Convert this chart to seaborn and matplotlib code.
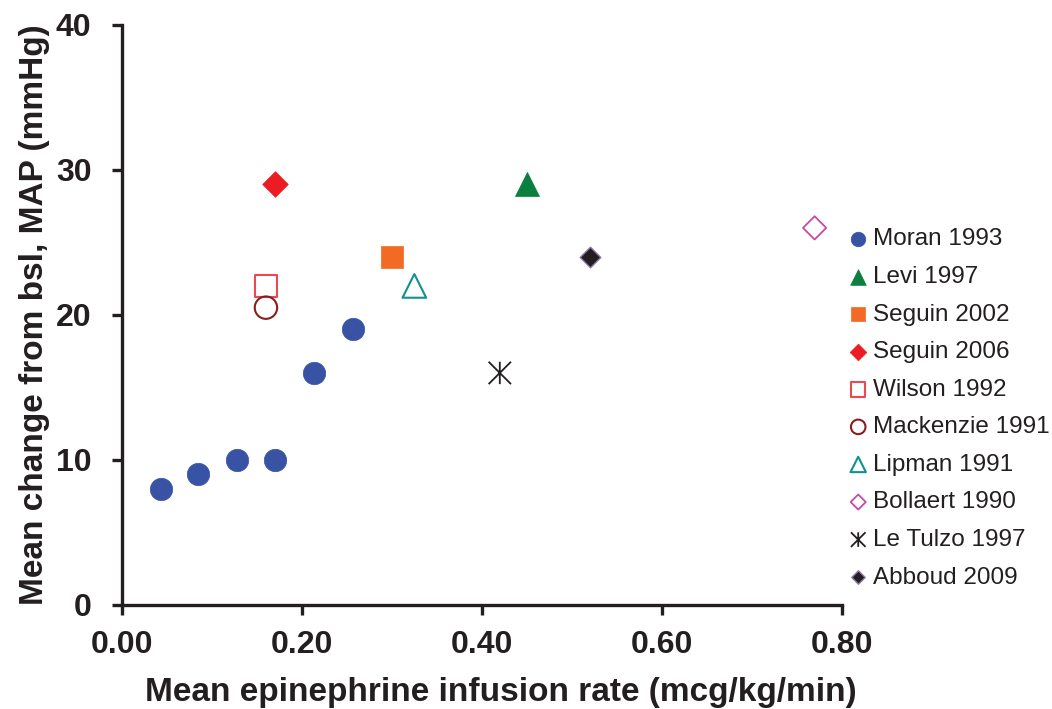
import matplotlib
matplotlib.use("Agg")
import matplotlib.pyplot as plt
import seaborn as sns
import pandas as pd
from matplotlib.path import Path

sns.set_theme(style="white")
plt.rcParams['font.family'] = ['Liberation Sans', 'DejaVu Sans']

# ---- data ----
moran_x = [0.043, 0.085, 0.128, 0.170, 0.213, 0.257]
moran_y = [8, 9, 10, 10, 16, 19]

studies = ["Moran 1993", "Levi 1997", "Seguin 2002", "Seguin 2006", "Wilson 1992",
           "Mackenzie 1991", "Lipman 1991", "Bollaert 1990", "Le Tulzo 1997", "Abboud 2009"]
single_x = [None, 0.45, 0.30, 0.17, 0.16, 0.16, 0.325, 0.77, 0.42, 0.52]
single_y = [None, 29, 24, 29, 22, 20.5, 22, 26, 16, 24]

xticks = [0.0, 0.2, 0.4, 0.6, 0.8]
yticks = [0, 10, 20, 30, 40]

rows = []
for x, y in zip(moran_x, moran_y):
    rows.append((studies[0], x, y))
for s, x, y in zip(studies[1:], single_x[1:], single_y[1:]):
    rows.append((s, x, y))
df = pd.DataFrame(rows, columns=["study", "rate", "map"])

asterisk = Path([(0, -1), (0, 1), (-1, -1), (1, 1), (-1, 1), (1, -1)],
                [Path.MOVETO, Path.LINETO] * 3)

styles = {
    "Moran 1993":     dict(marker="o", fc="#3953a4", ec="#3953a4", s=260, lw=0.5),
    "Levi 1997":      dict(marker="^", fc="#0a7f3f", ec="#0a7f3f", s=300, lw=0.5),
    "Seguin 2002":    dict(marker="s", fc="#f26a23", ec="#f26a23", s=270, lw=0.5),
    "Seguin 2006":    dict(marker="D", fc="#ec1c24", ec="#ec1c24", s=170, lw=0.5),
    "Wilson 1992":    dict(marker="s", fc="none", ec="#ec4a52", s=260, lw=1.5),
    "Mackenzie 1991": dict(marker="o", fc="none", ec="#8b1c1f", s=260, lw=1.5),
    "Lipman 1991":    dict(marker="^", fc="none", ec="#129093", s=290, lw=1.5),
    "Bollaert 1990":  dict(marker="D", fc="none", ec="#c74ba6", s=140, lw=1.3),
    "Le Tulzo 1997":  dict(marker=asterisk, fc="none", ec="#231f20", s=260, lw=1.3),
    "Abboud 2009":    dict(marker="D", fc="#231f20", ec="#8a76a8", s=110, lw=1.0),
}

fig = plt.figure(figsize=(10.52, 7.09), dpi=100)
ax = fig.add_axes([0.116, 0.1467, 0.684, 0.8183])

for st in studies:
    sub = df[df["study"] == st]
    kw = styles[st]
    sns.scatterplot(data=sub, x="rate", y="map", ax=ax, label=st,
                    marker=kw["marker"], s=kw["s"], facecolor=kw["fc"],
                    edgecolor=kw["ec"], linewidth=kw["lw"], zorder=3)

ax.set_xlim(0, 0.8)
ax.set_ylim(0, 40)
ax.set_xticks(xticks)
ax.set_xticklabels([f"{v:.2f}" for v in xticks])
ax.set_yticks(yticks)
ax.set_yticklabels([str(v) for v in yticks])

for side in ["top", "right"]:
    ax.spines[side].set_visible(False)
for side in ["left", "bottom"]:
    ax.spines[side].set_linewidth(2.4)
    ax.spines[side].set_color("#231f20")

ax.tick_params(axis="both", which="major", direction="out", length=7, width=2.4,
               color="#231f20", labelsize=23, labelcolor="#231f20",
               bottom=True, left=True)
ax.tick_params(axis="x", pad=11)
ax.tick_params(axis="y", pad=15)
for lab in ax.get_xticklabels() + ax.get_yticklabels():
    lab.set_fontweight("bold")

ax.set_xlabel("Mean epinephrine infusion rate (mcg/kg/min)", fontsize=24,
              fontweight="bold", color="#231f20", labelpad=12, x=0.527)
ax.set_ylabel("Mean change from bsl, MAP (mmHg)", fontsize=24,
              fontweight="bold", color="#231f20", labelpad=4)

leg = ax.legend(loc="upper left", bbox_to_anchor=(0.795, 0.695),
                bbox_transform=fig.transFigure, frameon=False,
                fontsize=17.5, markerscale=0.65, handlelength=0.8,
                handletextpad=0.2, labelspacing=0.64, borderpad=0)
for t in leg.get_texts():
    t.set_color("#231f20")

fig.savefig("out.png", dpi=100)
